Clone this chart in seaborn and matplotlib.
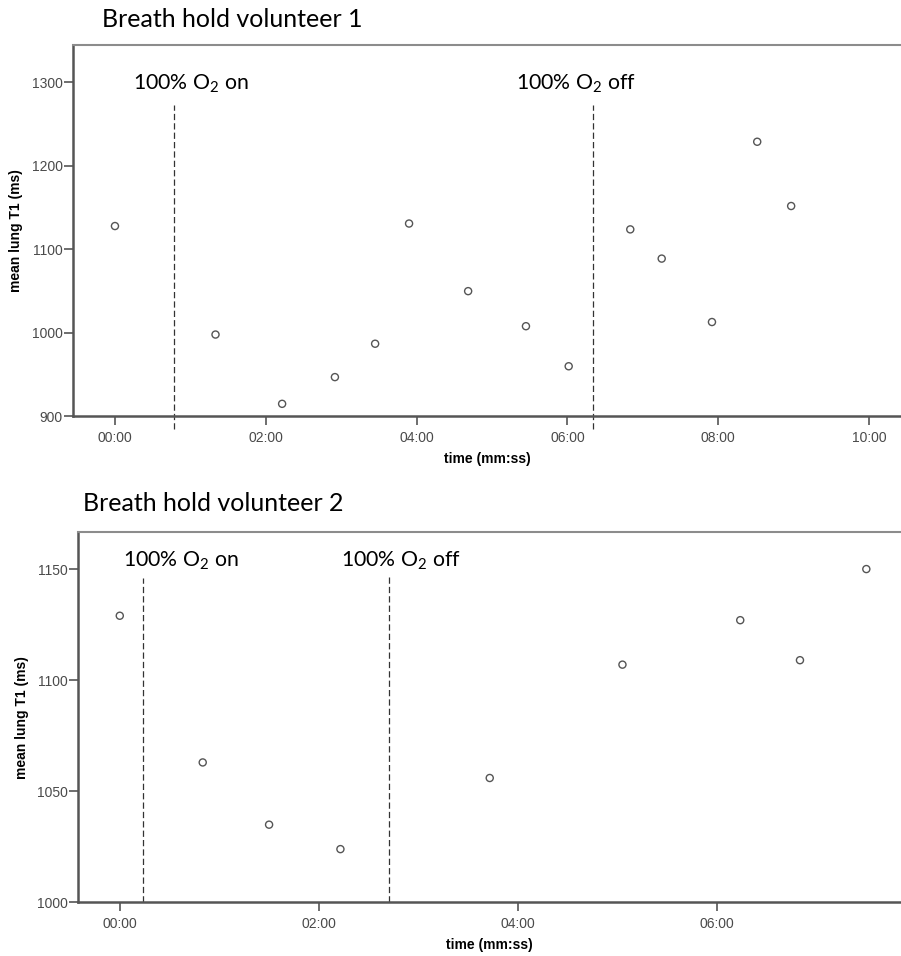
import matplotlib
matplotlib.use("Agg")
import matplotlib.pyplot as plt
import matplotlib.ticker as mticker
import seaborn as sns
import pandas as pd

# Volunteer 1: acquisition time (s) and mean lung T1 (ms)
v1_time = [0, 80, 133, 175, 207, 234, 281, 327, 361, 410, 435, 475, 511, 538]
v1_t1 = [1128, 998, 915, 947, 987, 1131, 1050, 1008, 960, 1124, 1089, 1013, 1229, 1152]
v1_o2_on, v1_o2_off = 47, 380

# Volunteer 2
v2_time = [0, 50, 90, 133, 223, 303, 374, 410, 450]
v2_t1 = [1129, 1063, 1035, 1024, 1056, 1107, 1127, 1109, 1150]
v2_o2_on, v2_o2_off = 14, 162

titles = ["Breath hold volunteer 1", "Breath hold volunteer 2"]
xlabel = "time (mm:ss)"
ylabel = "mean lung T1 (ms)"
label_on = "100% O$_2$ on"
label_off = "100% O$_2$ off"

sns.set_theme(style="white")
plt.rcParams["font.family"] = ["Liberation Sans", "DejaVu Sans"]
plt.rcParams["mathtext.fontset"] = "custom"
plt.rcParams["mathtext.rm"] = "Lato"
plt.rcParams["mathtext.it"] = "Lato:italic"

TITLE_FONT = "Lato"
AX_DARK = "#555555"
TICK_COL = "#4a4a4a"


def mmss(v, pos=None):
    v = int(round(v))
    return f"{v // 60:02d}:{v % 60:02d}"


fig = plt.figure(figsize=(9.01, 9.56), dpi=100)
ax1 = fig.add_axes([0.081, 0.5645, 0.919, 0.3885])
ax2 = fig.add_axes([0.0869, 0.0560, 0.9131, 0.3878])

panels = [
    dict(ax=ax1, t=v1_time, y=v1_t1, on=v1_o2_on, off=v1_o2_off,
         xlim=(-33.4, 625.4), ylim=(900, 1345), yticks=[900, 1000, 1100, 1200, 1300],
         xticks=[0, 120, 240, 360, 480, 600],
         vl=dict(on=(-0.033, 0.838), off=(-0.033, 0.838)),
         txt_on=(60.5, 1291.5), txt_off=(366.8, 1291.5),
         title_xy=(0.113, 0.9715)),
    dict(ax=ax2, t=v2_time, y=v2_t1, on=v2_o2_on, off=v2_o2_off,
         xlim=(-25, 470.9), ylim=(1000, 1166.8), yticks=[1000, 1050, 1100, 1150],
         xticks=[0, 120, 240, 360],
         vl=dict(on=(0, 0.874), off=(0, 0.881)),
         txt_on=(36.8, 1151), txt_off=(169.7, 1151),
         title_xy=(0.0925, 0.4660)),
]

for i, p in enumerate(panels):
    ax = p["ax"]
    df = pd.DataFrame({"time": p["t"], "T1": p["y"]})
    sns.scatterplot(data=df, x="time", y="T1", ax=ax, marker="o", s=26,
                    facecolor="none", edgecolor=AX_DARK, linewidth=1.0, zorder=3)

    for key, xv in (("on", p["on"]), ("off", p["off"])):
        lo, hi = p["vl"][key]
        ax.axvline(xv, ymin=lo, ymax=hi, color="#333333", lw=0.9,
                   linestyle=(0, (5, 2.5)), clip_on=False, zorder=2)

    ax.text(*p["txt_on"], label_on, ha="center", va="baseline",
            fontsize=15.3, family=TITLE_FONT, color="black")
    ax.text(*p["txt_off"], label_off, ha="center", va="baseline",
            fontsize=15.3, family=TITLE_FONT, color="black")

    ax.set_xlim(*p["xlim"])
    ax.set_ylim(*p["ylim"])
    ax.set_xticks(p["xticks"])
    ax.set_yticks(p["yticks"])
    ax.xaxis.set_major_formatter(mticker.FuncFormatter(mmss))
    ax.tick_params(axis="both", which="major", labelsize=10, colors=AX_DARK,
                   labelcolor=TICK_COL, direction="out", width=1.2, length=6.5)
    ax.tick_params(axis="x", pad=4, bottom=True)
    ax.tick_params(axis="y", pad=1, left=True)

    ax.set_xlabel(xlabel, fontsize=10, fontweight="bold", color="black", labelpad=5)
    ax.set_ylabel(ylabel, fontsize=10, fontweight="bold", color="black", labelpad=6)

    for side in ("left", "bottom"):
        ax.spines[side].set_color(AX_DARK)
        ax.spines[side].set_linewidth(1.8)
    ax.spines["top"].set_color("#8c8c8c")
    ax.spines["top"].set_linewidth(1.5)
    ax.spines["right"].set_visible(False)
    ax.grid(False)

    fig.text(*p["title_xy"], titles[i], ha="left", va="baseline",
             fontsize=18, family=TITLE_FONT, color="black")

fig.savefig("out.png", dpi=100, facecolor="white")
